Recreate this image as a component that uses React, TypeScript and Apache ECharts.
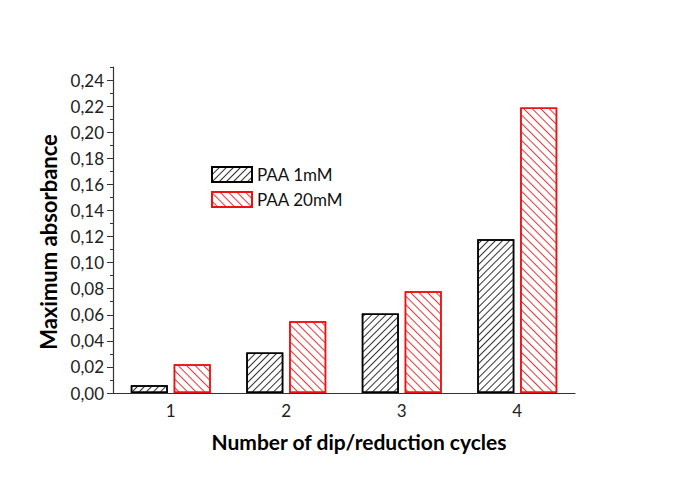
import React, { useEffect, useRef } from "react";
import * as echarts from "echarts";

const categories = ["1", "2", "3", "4"];
const paa1 = [0.006, 0.031, 0.061, 0.118];
const paa20 = [0.022, 0.055, 0.078, 0.219];
const yMajorTicks = [0, 0.02, 0.04, 0.06, 0.08, 0.1, 0.12, 0.14, 0.16, 0.18, 0.2, 0.22, 0.24];

export default function App() {
  const ref = useRef<HTMLDivElement>(null);
  useEffect(() => {
    const chart = echarts.init(ref.current!, null, { renderer: "svg" });
    const font = "Lato, 'Open Sans', sans-serif";
    chart.setOption({
      animation: false,
      backgroundColor: "#ffffff",
      textStyle: { fontFamily: font },
      grid: { left: 113, right: 110, top: 67, bottom: 91, containLabel: false },
      legend: {
        orient: "vertical",
        left: 206,
        top: 161,
        itemWidth: 40,
        itemHeight: 15,
        itemGap: 8,
        icon: "rect",
        textStyle: { fontSize: 17, color: "#111", fontFamily: font },
        data: ["PAA 1mM", "PAA 20mM"],
      },
      xAxis: {
        type: "category",
        data: categories,
        name: "Number of dip/reduction cycles",
        nameLocation: "middle",
        nameGap: 38,
        nameTextStyle: { fontSize: 21, fontWeight: "bold", color: "#000", fontFamily: font, padding: [0, 0, 0, 30] },
        axisLine: { lineStyle: { color: "#333", width: 1.2 } },
        axisTick: { alignWithLabel: true, length: 5, lineStyle: { color: "#333" } },
        axisLabel: { fontSize: 17, color: "#222", margin: 9 },
        splitLine: { show: false },
      },
      yAxis: [
        {
          type: "value",
          min: 0,
          max: 0.25,
          interval: 0.01,
          name: "Maximum absorbance",
          nameLocation: "middle",
          nameGap: 54,
          nameTextStyle: { fontSize: 22, fontWeight: "bold", color: "#000", fontFamily: font, padding: [0, 24, 0, 0] },
          axisLine: { show: true, lineStyle: { color: "#333", width: 1.2 } },
          axisTick: { show: true, length: 6, customValues: yMajorTicks, lineStyle: { color: "#333" } },
          axisLabel: {
            fontSize: 17,
            color: "#222",
            margin: 9,
            customValues: yMajorTicks,
            formatter: (v: number) => v.toFixed(2).replace(".", ","),
          },
          splitLine: { show: false },
        },
        {
          type: "value",
          min: 0,
          max: 0.25,
          interval: 0.01,
          position: "left",
          axisLine: { show: false },
          axisTick: { show: true, length: 3, lineStyle: { color: "#333" } },
          axisLabel: { show: false },
          splitLine: { show: false },
        },
      ],
      series: [
        {
          name: "PAA 1mM",
          type: "bar",
          data: paa1,
          barWidth: 37,
          barGap: "16%",
          itemStyle: {
            color: "#ffffff",
            borderColor: "#000000",
            borderWidth: 1.5,
            decal: {
              symbol: "rect",
              symbolSize: 1,
              dashArrayX: [1, 0],
              dashArrayY: [1, 4],
              rotation: -Math.PI / 4,
              color: "#333333",
            },
          },
        },
        {
          name: "PAA 20mM",
          type: "bar",
          data: paa20,
          barWidth: 37,
          itemStyle: {
            color: "#ffffff",
            borderColor: "#ee1111",
            borderWidth: 1.5,
            decal: {
              symbol: "rect",
              symbolSize: 1,
              dashArrayX: [1, 0],
              dashArrayY: [1, 5],
              rotation: Math.PI / 4,
              color: "#ee3333",
            },
          },
        },
      ],
    });
    return () => chart.dispose();
  }, []);
  return <div ref={ref} style={{ width: 685, height: 484, position: "absolute", left: 0, top: 0 }} />;
}
